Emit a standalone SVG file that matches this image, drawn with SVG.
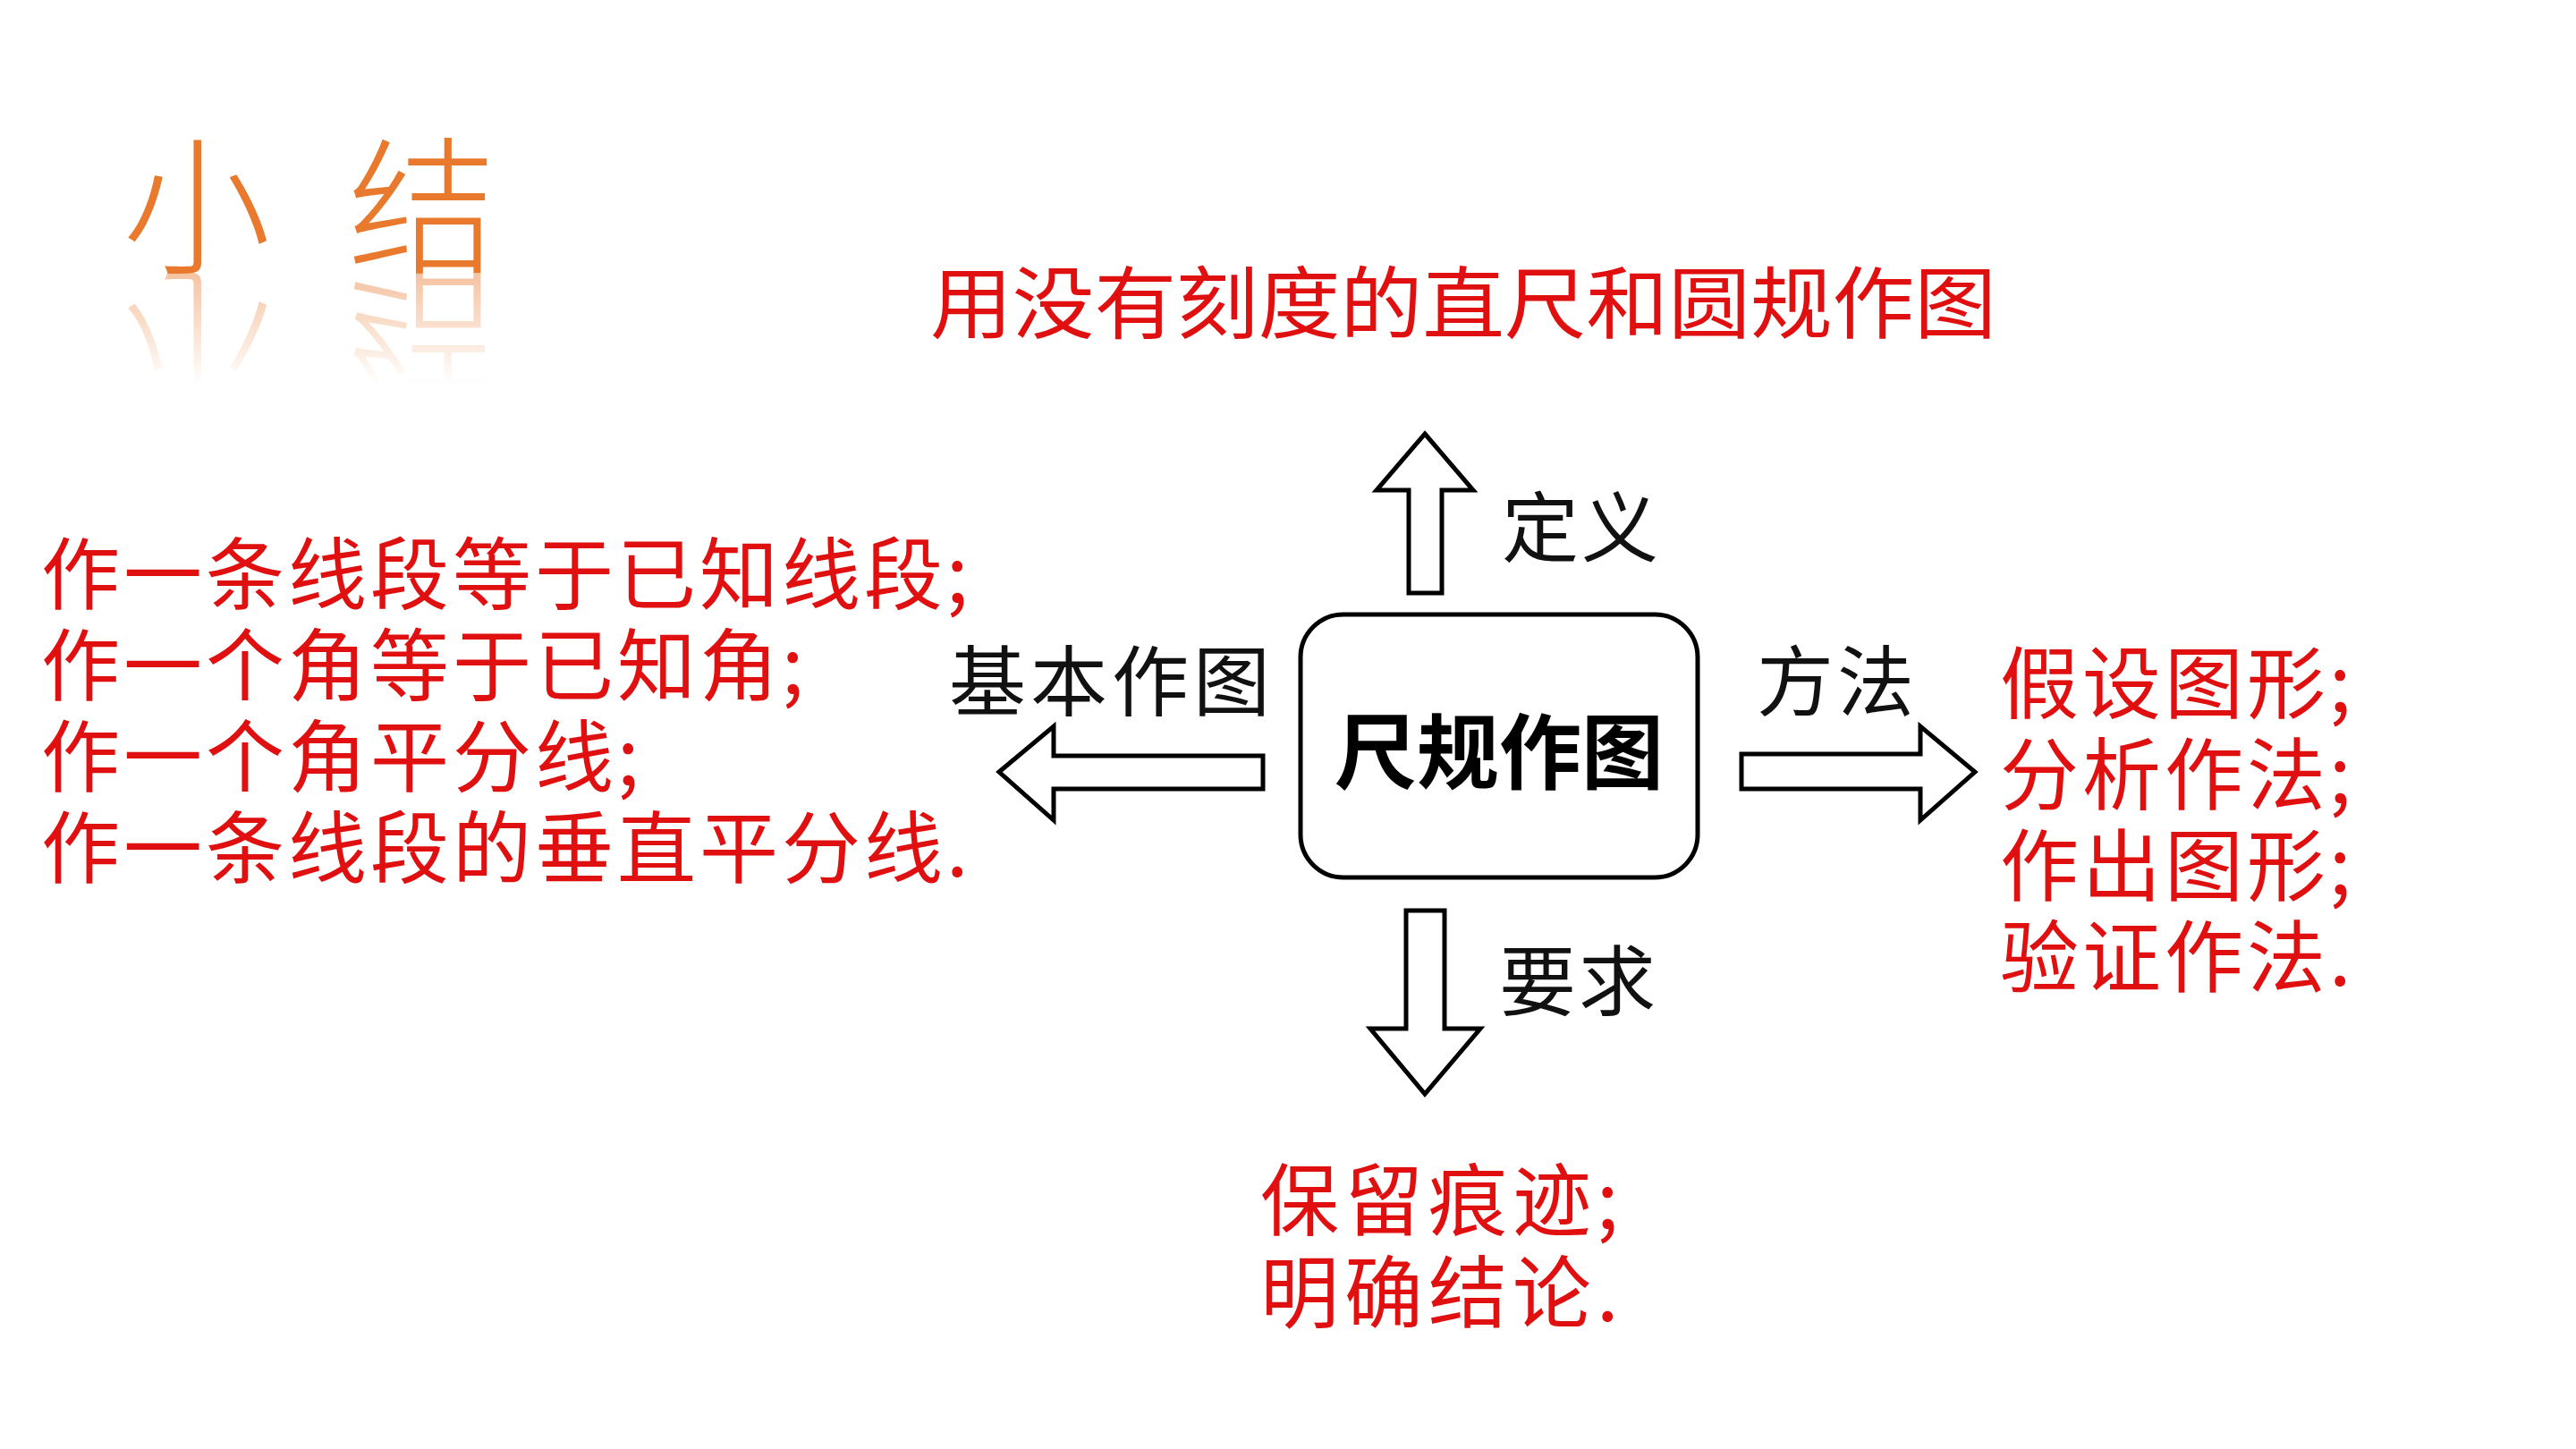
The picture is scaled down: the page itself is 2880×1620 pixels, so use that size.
<svg xmlns="http://www.w3.org/2000/svg" xmlns:xlink="http://www.w3.org/1999/xlink" width="2880" height="1620" viewBox="0 0 2880 1620">
<style>
.red{fill:#E01010;font-family:"Noto Sans CJK SC","Noto Sans",sans-serif;font-size:88px;}
.blk{fill:#111;font-family:"Noto Sans CJK SC","Noto Sans",sans-serif;font-size:86px;}
.arrow{fill:#fff;stroke:#000;stroke-width:5;stroke-linejoin:miter;}
.ttl{fill:#E8792D;font-family:"Noto Sans CJK SC","Noto Sans",sans-serif;font-size:166px;font-weight:300;}
</style>
<defs>
<linearGradient id="fade" x1="0" y1="0" x2="0" y2="1">
<stop offset="0" stop-color="#fff" stop-opacity="0.45"/>
<stop offset="1" stop-color="#fff" stop-opacity="0"/>
</linearGradient>
<mask id="refl" maskUnits="userSpaceOnUse" x="0" y="300" width="700" height="140">
<rect x="0" y="305" width="700" height="125" fill="url(#fade)"/>
</mask>
<text id="ttltext" class="ttl" y="293"><tspan x="137">小</tspan><tspan x="389">结</tspan></text>
</defs>
<rect width="2880" height="1620" fill="#fff"/>
<g id="title">
<use href="#ttltext" xlink:href="#ttltext"/>
<g mask="url(#refl)">
<use href="#ttltext" xlink:href="#ttltext" transform="translate(0,610) scale(1,-1)"/>
</g>
</g>
<g id="definition-text">
<text class="red" x="1040" y="371" textLength="1192" lengthAdjust="spacingAndGlyphs">用没有刻度的直尺和圆规作图</text>
</g>
<g id="center-node">
<rect x="1454" y="687" width="444" height="294" rx="48" fill="#fff" stroke="#000" stroke-width="5"/>
<text x="1676" y="875" text-anchor="middle" font-family="'Noto Sans CJK SC',sans-serif" font-weight="bold" font-size="92" fill="#000">尺规作图</text>
</g>
<g id="connectors">
<polygon class="arrow" points="1593,485 1647,548 1612,548 1612,663 1575,663 1575,548 1539,548"/>
<polygon class="arrow" points="1572,1018 1615,1018 1615,1150 1655,1150 1593,1223 1532,1150 1572,1150"/>
<polygon class="arrow" points="1117,863 1178,812 1178,845 1412,845 1412,882 1178,882 1178,917"/>
<polygon class="arrow" points="1947,843 2147,843 2147,812 2208,863 2147,917 2147,882 1947,882"/>
</g>
<g id="label-define"><text class="blk" x="1679" y="622" letter-spacing="3">定义</text></g>
<g id="label-require"><text class="blk" x="1676" y="1129" letter-spacing="3">要求</text></g>
<g id="label-basic"><text class="blk" x="1061" y="794" letter-spacing="5">基本作图</text></g>
<g id="label-method"><text class="blk" x="1964" y="794" letter-spacing="4">方法</text></g>
<g id="basic-list">
<text class="red" letter-spacing="4"><tspan x="46" y="674">作一条线段等于已知线段;</tspan><tspan x="46" y="776">作一个角等于已知角;</tspan><tspan x="46" y="878">作一个角平分线;</tspan><tspan x="46" y="980">作一条线段的垂直平分线.</tspan></text>
</g>
<g id="method-list">
<text class="red" letter-spacing="4"><tspan x="2236" y="796">假设图形;</tspan><tspan x="2236" y="898">分析作法;</tspan><tspan x="2236" y="1000">作出图形;</tspan><tspan x="2236" y="1102">验证作法.</tspan></text>
</g>
<g id="require-list">
<text class="red" letter-spacing="6"><tspan x="1409" y="1374">保留痕迹;</tspan><tspan x="1409" y="1477">明确结论.</tspan></text>
</g>
</svg>
